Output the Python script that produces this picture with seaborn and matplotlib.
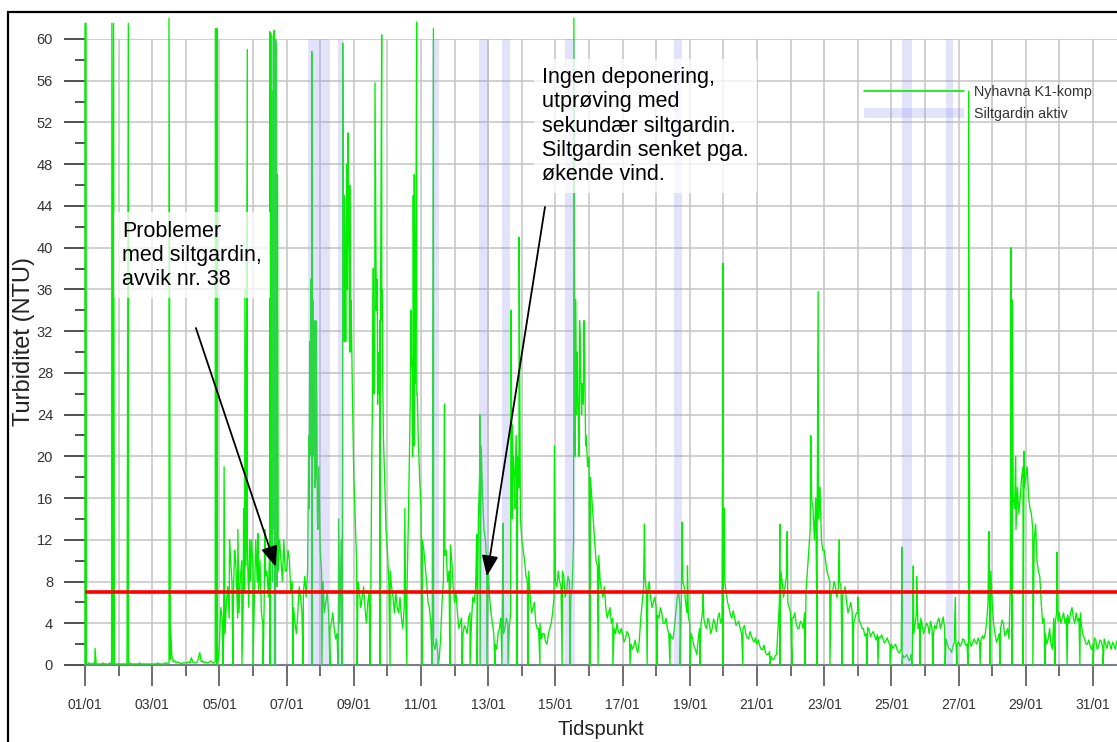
import numpy as np
import pandas as pd
import matplotlib
matplotlib.use("Agg")
import matplotlib.pyplot as plt
import seaborn as sns
from matplotlib.patches import Rectangle
from matplotlib.lines import Line2D
from matplotlib.ticker import MultipleLocator, FixedLocator, FixedFormatter

sns.set_theme(style="white")
plt.rcParams["font.family"] = ["Liberation Sans", "DejaVu Sans"]

# ---------------- data ----------------
# turbidity at even hours (00, 02, ... 22) from 01/01, one row per day (NTU)
ntu_even_hours = [
    0.1, 0.1, 0.1, 0.2, 0.1, 0.1, 0.1, 0.1, 0.1, 0.2, 0.1, 0.1,
    0.1, 0.1, 0.1, 0.1, 0.2, 0.1, 0.1, 0.1, 0.1, 0.1, 0.1, 0.1,
    0.1, 0.1, 0.2, 0.1, 0.1, 0.2, 0.2, 0.9, 0.4, 0.3, 0.2, 0.2,
    0.2, 0.3, 0.7, 0.2, 0.3, 1.2, 0.4, 0.3, 0.2, 0.4, 0.2, 0.3,
    2.0, 4.5, 3.0, 7.5, 10, 6.5, 9, 5, 10, 7, 11, 8,
    9, 12, 7, 5, 6, 9, 12, 8, 11, 9, 10, 12,
    9, 10, 8, 4, 5, 6.5, 7, 6.5, 15, 30, 24, 14,
    11, 8, 6, 5, 4, 3.5, 3, 4, 20, 36, 42, 33,
    18, 10, 7, 6.5, 5.5, 6, 4.5, 28, 35, 27, 33, 18,
    11, 9, 6.5, 7, 5, 4.5, 5.5, 7, 22, 28, 33, 22,
    15, 11, 8, 5.5, 3, 1.5, 1, 2.5, 8, 11, 9, 10,
    6, 5, 4, 3, 3.5, 4.5, 4, 6, 9, 19, 16, 12,
    9, 5, 3, 1.5, 3.5, 4.5, 3.5, 4, 5, 18, 22, 17,
    12, 10, 8, 6.5, 5.5, 4, 3.5, 2.5, 3, 2, 3.5, 5,
    8, 9, 7.5, 8.5, 7, 8, 7.5, 20, 26, 30, 25, 22,
    20, 16, 12, 9.5, 8, 6.5, 5.5, 5, 4, 3.5, 4, 3,
    3, 2.5, 3, 2, 1.8, 1.5, 2.5, 6, 8.5, 7, 6.5, 6,
    5.5, 4.5, 5, 4, 3.5, 3, 2.5, 5, 7, 6.5, 7.5, 5,
    4, 2.5, 1.5, 2.5, 4, 4.5, 3.5, 4, 3.5, 4, 4.5, 4,
    10, 7, 5.5, 4.5, 4.5, 4, 3.5, 3.5, 3, 2.5, 2.8, 2.2,
    2, 1.8, 1.5, 1.2, 1, 0.8, 0.5, 1, 6, 8, 7.5, 6,
    5, 4.5, 4, 3.5, 4, 5, 9, 13, 15, 16, 14, 12,
    11, 9, 8, 7, 7.5, 7, 7.5, 7, 6, 5.5, 5, 4.5,
    5, 4, 3.5, 3, 3.4, 3, 2.8, 2.9, 2.6, 2.5, 2.3, 2.2,
    2, 1.8, 1.5, 1.2, 1, 0.8, 0.6, 1, 3, 5, 4, 3.8,
    3.5, 3.8, 4.2, 3, 3.5, 4.5, 4, 3.5, 2, 1.5, 1.8, 2.5,
    2.2, 2, 2.4, 2, 2.3, 2.1, 2.2, 2.6, 2.4, 2.5, 4, 8,
    6, 3, 2.5, 3.5, 4, 3, 2.5, 13, 15, 17, 16, 19,
    18, 16, 14.5, 12, 10, 8.5, 4, 3, 2.5, 2, 4.5, 5,
    5, 4.5, 4, 4.8, 5, 4.5, 5, 4.5, 3.5, 2.5, 2, 1.8,
    2, 2.4, 1.8, 2.2, 2.5, 1.6, 2, 2.2, 1.5, 2,
]

# turbidity at odd hours (01, 03, ... 23) from 01/01, one row per day (NTU)
ntu_odd_hours = [
    0.1, 0.2, 0.1, 0.1, 0.1, 0.1, 0.2, 0.1, 0.1, 0.1, 0.1, 0.1,
    0.1, 0.1, 0.1, 0.1, 0.1, 0.1, 0.1, 0.2, 0.1, 0.1, 0.1, 0.1,
    0.1, 0.1, 0.1, 0.1, 0.2, 0.1, 0.5, 0.3, 0.2, 0.2, 0.1, 0.2,
    0.2, 0.2, 0.3, 0.2, 0.6, 0.3, 0.2, 0.2, 0.3, 0.2, 0.3, 0.4,
    5.5, 2.5, 6, 4.5, 8, 11, 4.5, 8.5, 6, 9.5, 5.5, 12,
    6.5, 8, 10, 4, 8.5, 6.5, 10, 13, 7.5, 12, 8, 9,
    11, 7, 5.5, 3, 7.5, 5, 8.5, 9, 28, 20, 33, 19,
    9, 5, 7, 3.5, 5, 2.5, 4.5, 12, 31, 44, 30, 26,
    14, 8, 5.5, 7.5, 4, 7, 22, 33, 25, 37, 24, 13,
    8, 7.5, 5, 5.5, 6.5, 3.5, 6.5, 14, 30, 21, 26, 18,
    12, 9.5, 6, 4, 2, 2.5, 0.6, 6, 10.5, 8, 11.5, 7.5,
    7, 3.5, 4.5, 3.8, 3, 5, 6.5, 7.5, 14, 21, 13, 9.5,
    6.5, 4, 2, 3, 4.5, 3, 4.5, 3.5, 14, 15, 20, 14,
    11, 8.5, 9, 5, 6, 3.5, 4, 3, 2.2, 3, 4, 6.5,
    7.5, 8, 9, 6.5, 8.5, 6.5, 12, 24, 21, 27, 29, 19,
    18, 14, 10, 10.5, 7, 7.5, 4.5, 5.5, 4.5, 3, 3.2, 3.5,
    2.2, 3.2, 2.5, 1.5, 2.4, 1.2, 4.5, 7.5, 7, 8, 5.5, 6.5,
    4.8, 5.5, 4, 4.5, 3, 2.6, 3.5, 6.5, 5.5, 8, 6, 4.5,
    3, 1.8, 1, 3.5, 5, 3.8, 4.5, 3, 4.4, 3.2, 5, 4.5,
    8, 6, 4.8, 5.2, 3.8, 4.2, 3, 3.8, 2.6, 3.2, 2.4, 2.6,
    2.4, 1.5, 1.9, 1, 1.3, 0.6, 0.9, 3.5, 9, 6.5, 8.5, 5.5,
    4.5, 5, 3.5, 4.2, 3.5, 7, 11, 16, 12, 14, 17, 11,
    10, 8.5, 7, 8, 6.5, 8, 6.5, 7.5, 5, 6, 4, 5,
    4.2, 3.5, 2.8, 3.6, 2.7, 3.2, 2.4, 2.7, 2.9, 2.1, 2.6, 1.9,
    1.6, 2, 1.2, 1.5, 0.7, 1, 0.4, 1.5, 4, 3.5, 4.5, 3,
    4, 3, 3.5, 3.8, 4.2, 3.5, 4.6, 2.5, 1.6, 1.2, 2.2, 2,
    1.8, 2.5, 1.9, 2.6, 1.8, 2.5, 2, 2.2, 2.8, 3, 6, 9,
    4, 2.2, 3, 4.3, 2.8, 3.5, 8, 16, 13, 14.5, 18, 17,
    19, 15, 13, 13.5, 9, 6, 4.5, 2, 3.5, 1.5, 4, 4.2,
    4, 5, 4.5, 4, 5.5, 4, 4.2, 5, 2.8, 2, 2.4, 1.5,
    2.6, 1.5, 2.4, 1.7, 2, 2.3, 1.5, 1.9, 2.3, 1.6,
]

# short upward spikes (day offset from 01/01 00:00, NTU)
spike_day = [0.00, 0.03, 0.30, 0.80, 0.85, 1.29, 2.50, 2.55, 3.88, 3.93,
             4.14, 4.30, 4.45, 4.55, 4.72, 4.76, 4.83, 4.90, 5.15, 5.35,
             5.50, 5.53, 5.57, 5.60, 5.63, 5.67, 5.70, 5.73,
             6.66, 6.69, 6.70, 6.72, 6.73, 6.75, 6.77, 6.78, 6.80, 6.82,
             6.84, 6.87, 6.90, 6.93,
             7.55, 7.67, 7.70, 7.72, 7.74, 7.76, 7.79, 7.81, 7.83, 7.86,
             7.88, 7.90, 7.92,
             8.55, 8.57, 8.58, 8.60, 8.62, 8.63, 8.67, 8.70, 8.72, 8.75,
             8.78, 8.80, 8.83, 8.85, 8.86, 8.88,
             9.52, 9.68, 9.70, 9.72, 9.75, 9.77, 9.78, 9.80, 9.82, 9.83,
             9.85, 9.87, 9.89,
             10.37, 10.70, 11.66, 11.75, 12.44, 12.68, 12.72, 12.75, 12.80, 12.85,
             12.92, 13.97,
             14.55, 14.60, 14.62, 14.65, 14.68, 14.70, 14.72, 14.75, 14.78, 14.82,
             14.85, 14.88, 14.90,
             16.65, 17.77, 17.93, 18.40, 18.99, 19.03, 20.68, 20.90, 21.60, 21.82,
             21.86, 22.45, 23.00, 24.32, 24.65, 24.75, 25.90, 26.30, 26.90, 27.56,
             27.60, 27.70, 27.95, 28.93]
spike_ntu = [61.5, 61.5, 1.6, 61.5, 61.5, 61.5, 62.0, 3.4, 61.0, 61.0,
             19.0, 12.0, 11.0, 13.0, 15.0, 36.0, 59.0, 12.0, 12.6, 13.0,
             60.7, 60.5, 55.0, 60.3, 60.8, 60.0, 59.4, 47.0,
             22.0, 31.0, 26.0, 37.0, 20.0, 58.8, 27.0, 35.0, 22.0, 33.0,
             17.0, 18.0, 25.0, 13.0,
             14.0, 59.6, 34.0, 45.0, 40.0, 31.0, 48.0, 36.0, 51.0, 40.0,
             46.0, 30.0, 35.0,
             24.0, 31.0, 38.0, 26.0, 29.0, 55.8, 34.0, 37.0, 30.0, 26.0,
             33.0, 38.0, 60.4, 36.0, 28.0, 22.0,
             15.0, 25.0, 34.0, 29.0, 20.0, 45.0, 36.0, 47.0, 31.0, 27.0,
             42.0, 61.6, 26.0,
             61.0, 25.0, 12.5, 24.0, 13.6, 34.0, 23.0, 20.0, 18.0, 16.0,
             41.0, 21.0,
             62.0, 35.0, 28.0, 30.0, 24.0, 20.0, 33.0, 28.0, 24.0, 26.0,
             33.0, 27.0, 21.0,
             13.5, 13.7, 9.5, 7.0, 38.5, 15.0, 13.5, 12.8, 22.0, 35.8,
             17.0, 12.0, 6.5, 11.3, 9.5, 8.5, 6.5, 55.0, 12.8, 40.0,
             35.0, 20.0, 20.5, 10.8]

# sensor dropouts to 0 NTU (day offset)
drop_day = [3.93, 4.11, 4.40, 4.67, 5.00, 5.30, 5.51, 5.65, 6.19, 6.49,
            6.76, 7.05, 7.29, 7.53, 7.65, 8.10, 8.48, 8.78, 9.08, 9.58,
            10.03, 10.33, 10.51, 10.86, 11.22, 11.46, 11.67, 11.76, 11.96, 12.20,
            12.41, 12.59, 12.86, 13.18, 13.54, 14.20, 14.43, 15.03, 15.27, 15.71,
            16.22, 16.73, 17.02, 17.41, 17.71, 18.01, 18.30, 18.99, 19.58, 20.39,
            20.68, 21.04, 21.43, 21.79, 22.17, 22.53, 22.86, 23.27, 23.60, 23.96,
            24.32, 24.61, 24.85, 25.24, 25.60, 25.95, 26.28, 26.64, 26.93, 27.23,
            27.59, 27.92, 28.21, 28.57, 28.87, 29.23, 29.61, 30.00, 30.30]

# periods with silt curtain active (day offsets)
band_start = [5.54, 6.64, 7.53, 10.33, 11.73, 12.41, 14.29, 17.53, 24.32, 25.63]
band_end = [5.71, 7.29, 7.71, 10.54, 12.02, 12.65, 14.58, 17.77, 24.61, 25.83]

limit_ntu = 7.0
tick_labels = ["01/01", "03/01", "05/01", "07/01", "09/01", "11/01", "13/01", "15/01",
               "17/01", "19/01", "21/01", "23/01", "25/01", "27/01", "29/01", "31/01"]

# ---------------- build series ----------------
even_day = np.arange(len(ntu_even_hours)) * 2 / 24.0
odd_day = (np.arange(len(ntu_odd_hours)) * 2 + 1) / 24.0
t = np.concatenate([even_day, odd_day, np.array(spike_day), np.array(drop_day)])
v = np.concatenate([np.array(ntu_even_hours, float), np.array(ntu_odd_hours, float),
                    np.array(spike_ntu), np.zeros(len(drop_day))])
order = np.argsort(t, kind="stable")
df = pd.DataFrame({"day": t[order], "ntu": v[order]})

# ---------------- figure ----------------
W, H = 1117, 742
fig = plt.figure(figsize=(W / 100, H / 100), dpi=100)
ax = fig.add_axes([85 / W, 77 / H, (W - 85) / W, (665 - 39) / H])

GREEN = "#00ee00"
BAND = (0.60, 0.60, 0.95)

ax.grid(False)
for d in range(0, 32):
    ax.axvline(d, color="#c4c4c4", lw=1.1, zorder=0)
for yv in range(4, 61, 4):
    ax.axhline(yv, color="#c4c4c4", lw=1.1, zorder=0)

sns.lineplot(data=df, x="day", y="ntu", ax=ax, color=GREEN, lw=0.95,
             sort=False, estimator=None, zorder=3, clip_on=False, legend=False)

for s, e in zip(band_start, band_end):
    ax.axvspan(s, e, color=BAND, alpha=0.28, lw=0, zorder=4)

ax.axhline(limit_ntu, color="#ff0000", lw=2.6, zorder=5)

ax.set_xlim(0, (W - 85) / 33.6)
ax.set_ylim(0, 60)

ax.xaxis.set_major_locator(FixedLocator(list(range(0, 31, 2))))
ax.xaxis.set_major_formatter(FixedFormatter(tick_labels))
ax.xaxis.set_minor_locator(FixedLocator(list(range(1, 31, 2))))
ax.yaxis.set_major_locator(MultipleLocator(4))
ax.yaxis.set_minor_locator(MultipleLocator(2))

ax.tick_params(axis="x", which="major", length=15, width=1.2, color="#555555",
               direction="out", pad=9, labelsize=10, labelcolor="#333333", bottom=True)
ax.tick_params(axis="x", which="minor", length=8, width=1.2, color="#555555",
               direction="out", bottom=True)
ax.tick_params(axis="y", which="major", length=15, width=1.2, color="#333333",
               direction="out", pad=8, labelsize=10.5, labelcolor="#333333", left=True)
ax.tick_params(axis="y", which="minor", length=7, width=1.2, color="#333333",
               direction="out", left=True)

for side in ["top", "right"]:
    ax.spines[side].set_visible(False)
ax.spines["bottom"].set_color("#7a7f90")
ax.spines["bottom"].set_linewidth(1.5)
ax.spines["left"].set_color("#555555")
ax.spines["left"].set_linewidth(1.0)

ax.set_xlabel("Tidspunkt", fontsize=14.5, color="#222222")
ax.xaxis.set_label_coords(0.5, -(739 - 665) / 626.0)
ax.xaxis.label.set_va("bottom")
ax.set_ylabel("Turbiditet (NTU)", fontsize=17, color="#222222")
ax.yaxis.set_label_coords(-(85 - 35) / 1032.0, (665 - 341) / 626.0)

# annotations
box = dict(facecolor="white", alpha=0.75, edgecolor="none", pad=6)
ax.text(1.10, 42.6, "Problemer\nmed siltgardin,\navvik nr. 38", fontsize=15.5,
        ha="left", va="top", color="black", linespacing=1.2, bbox=box, zorder=6)
ax.text(13.60, 57.3, "Ingen deponering,\nutprøving med\nsekundær siltgardin.\nSiltgardin senket pga.\nøkende vind.",
        fontsize=15.5, ha="left", va="top", color="black", linespacing=1.2, bbox=box, zorder=6)

arrow = dict(arrowstyle="-|>,head_length=0.45,head_width=0.18", color="black", lw=1.3,
             mutation_scale=28, shrinkA=0, shrinkB=0)
ax.annotate("", xy=(5.68, 9.4), xytext=(3.30, 32.3), arrowprops=arrow, zorder=7)
ax.annotate("", xy=(11.96, 8.5), xytext=(13.69, 43.9), arrowprops=arrow, zorder=7)

# legend
handles = [Line2D([0], [0], color=GREEN, lw=1.2),
           Line2D([0], [0], color=BAND, alpha=0.28, lw=7, solid_capstyle="butt")]
leg = ax.legend(handles, ["Nyhavna K1-komp", "Siltgardin aktiv"],
                loc="upper left", bbox_to_anchor=(851 / W, 1 - 72 / H),
                bbox_transform=fig.transFigure, frameon=False, fontsize=10.3,
                handlelength=7.0, handletextpad=0.7, labelspacing=0.55)
for txt in leg.get_texts():
    txt.set_color("#333333")
leg.set_zorder(8)

# outer frame
fig.patches.append(Rectangle((8 / W, -0.05), 1.2, (H - 12) / H + 0.05, transform=fig.transFigure,
                             fill=False, edgecolor="black", lw=1.6, clip_on=False))

fig.savefig("out.png", dpi=100)
